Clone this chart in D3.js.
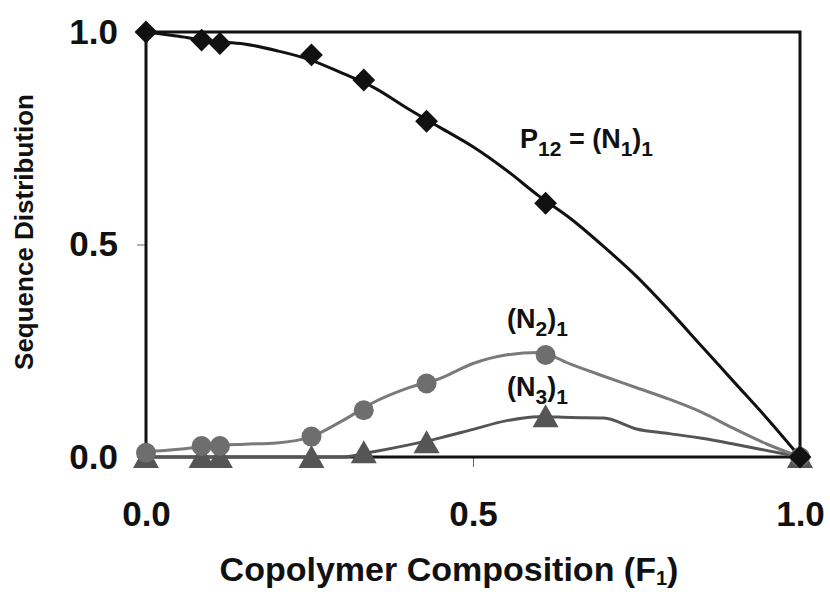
<!DOCTYPE html>
<html>
<head>
<meta charset="utf-8">
<script src="https://cdn.jsdelivr.net/npm/d3@7"></script>
<style>
  body { margin: 0; background: #fff; }
  text { font-family: "Liberation Sans", Arial, sans-serif; font-weight: bold; fill: #111; }
</style>
</head>
<body>
<div id="chart"></div>
<script>
// measured points (F1)
var markerF = [0, 0.085, 0.113, 0.253, 0.333, 0.429, 0.611, 1.0];
var p12Pts  = [1.0, 0.981, 0.973, 0.946, 0.887, 0.79, 0.597, 0.0];
var n2Pts   = [0.01, 0.026, 0.026, 0.048, 0.11, 0.173, 0.24, 0.0];
var n3Pts   = [0, 0, 0, 0, 0.011, 0.035, 0.096, 0.0];

// model curves
var curveF  = [0, 0.05, 0.1, 0.15, 0.2, 0.25, 0.3, 0.35, 0.4, 0.45, 0.5, 0.55, 0.6, 0.65, 0.7, 0.75, 0.8, 0.85, 0.9, 0.95, 1.0];
var p12Line = [1.0, 0.99, 0.978, 0.972, 0.956, 0.935, 0.903, 0.868, 0.82, 0.775, 0.73, 0.676, 0.615, 0.56, 0.495, 0.425, 0.345, 0.26, 0.175, 0.09, 0.0];
var n2Line  = [0.012, 0.018, 0.026, 0.03, 0.033, 0.046, 0.085, 0.13, 0.162, 0.185, 0.22, 0.24, 0.246, 0.218, 0.19, 0.163, 0.136, 0.105, 0.066, 0.03, 0.0];
var n3Line  = [0, 0, 0, 0, 0, 0, 0, 0.013, 0.028, 0.045, 0.065, 0.085, 0.095, 0.093, 0.092, 0.066, 0.055, 0.044, 0.03, 0.015, 0.0];

var ticks = [0, 0.5, 1.0];

var width = 830,
    height = 592,
    margin = {top: 32, left: 146, right: 30, bottom: 135};
var w = width - margin.left - margin.right,
    h = height - margin.top - margin.bottom;

var svg = d3.select("#chart").append("svg")
    .attr("width", width)
    .attr("height", height);

var g = svg.append("g")
    .attr("transform", "translate(" + margin.left + "," + margin.top + ")");

var x = d3.scaleLinear().domain([0, 1]).range([0, w]);
var y = d3.scaleLinear().domain([0, 1]).range([h, 0]);

// axes
var xAxis = g.append("g")
    .attr("transform", "translate(0," + h + ")")
    .call(d3.axisBottom(x).tickValues(ticks).tickFormat(d3.format(".1f"))
      .tickSize(10).tickPadding(34).tickSizeOuter(0));
var yAxis = g.append("g")
    .call(d3.axisLeft(y).tickValues(ticks).tickFormat(d3.format(".1f"))
      .tickSize(9).tickPadding(19).tickSizeOuter(0));

[xAxis, yAxis].forEach(function(a) {
  a.select(".domain").remove();
  a.selectAll("line").attr("stroke", "#666").attr("stroke-width", 1);
  a.selectAll("text").style("font-size", "35px").attr("fill", "#111");
});

// frame
g.append("rect")
    .attr("width", w).attr("height", h)
    .attr("fill", "none")
    .attr("stroke", "#111")
    .attr("stroke-width", 3);

var line = d3.line()
    .x(function(d) { return x(d[0]); })
    .y(function(d) { return y(d[1]); })
    .curve(d3.curveMonotoneX);

function pairs(xs, ys) { return xs.map(function(v, i) { return [v, ys[i]]; }); }

g.append("path").datum(pairs(curveF, n3Line))
    .attr("d", line).attr("fill", "none").attr("stroke", "#555").attr("stroke-width", 3);
g.append("path").datum(pairs(curveF, n2Line))
    .attr("d", line).attr("fill", "none").attr("stroke", "#7a7a7a").attr("stroke-width", 3);
g.append("path").datum(pairs(curveF, p12Line))
    .attr("d", line).attr("fill", "none").attr("stroke", "#111").attr("stroke-width", 3);

// markers
g.selectAll(".tri").data(pairs(markerF, n3Pts)).enter().append("path")
    .attr("class", "tri")
    .attr("d", "M0,-12L13,11L-13,11Z")
    .attr("fill", "#555")
    .attr("transform", function(d) { return "translate(" + x(d[0]) + "," + y(d[1]) + ")"; });

g.selectAll(".circ").data(pairs(markerF, n2Pts)).enter().append("circle")
    .attr("class", "circ")
    .attr("r", 10)
    .attr("fill", "#6e6e6e")
    .attr("cx", function(d) { return x(d[0]); })
    .attr("cy", function(d) { return y(d[1]); });

g.selectAll(".dia").data(pairs(markerF, p12Pts)).enter().append("path")
    .attr("class", "dia")
    .attr("d", d3.symbol().type(d3.symbolSquare).size(260))
    .attr("fill", "#111")
    .attr("transform", function(d) { return "translate(" + x(d[0]) + "," + y(d[1]) + ") rotate(45)"; });

// curve labels
function subLabel(px, py, parts) {
  var t = svg.append("text").attr("x", px).attr("y", py).style("font-size", "27px");
  var shift = 0;
  parts.forEach(function(p) {
    var want = p[1] ? 8 : 0;
    t.append("tspan").text(p[0])
      .attr("dy", want - shift)
      .style("font-size", p[1] ? "21px" : "27px");
    shift = want;
  });
}
subLabel(520, 148, [["P", 0], ["12", 1], [" = (N", 0], ["1", 1], [")", 0], ["1", 1]]);
subLabel(507, 328, [["(N", 0], ["2", 1], [")", 0], ["1", 1]]);
subLabel(507, 396, [["(N", 0], ["3", 1], [")", 0], ["1", 1]]);

// axis titles
var xt = svg.append("text")
    .attr("x", 449).attr("y", 581)
    .attr("text-anchor", "middle")
    .style("font-size", "34px");
xt.append("tspan").text("Copolymer Composition (F");
xt.append("tspan").text("1").attr("dy", 4).style("font-size", "20px");
xt.append("tspan").text(")").attr("dy", -4);

svg.append("text")
    .attr("transform", "translate(33,232) rotate(-90)")
    .attr("text-anchor", "middle")
    .style("font-size", "26px")
    .text("Sequence Distribution");
</script>
</body>
</html>
